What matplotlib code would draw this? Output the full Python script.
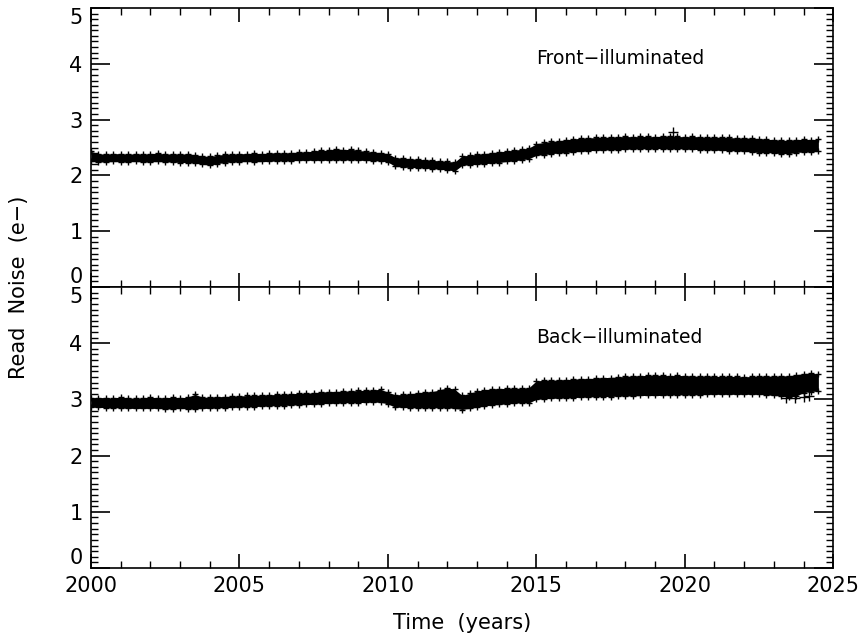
import matplotlib
matplotlib.use('Agg')

import matplotlib.pyplot as plt
from matplotlib.ticker import MultipleLocator
import numpy as np

# sample epochs, every quarter year from 2000.0 to 2024.5
TIMES = np.arange(2000.0, 2024.51, 0.25)

# upper / lower edge of the scatter cloud (e-)
FRONT_HI = [2.43, 2.39, 2.38, 2.39, 2.39, 2.38, 2.39, 2.38, 2.39, 2.40,
            2.38, 2.39, 2.38, 2.39, 2.37, 2.35, 2.34, 2.36, 2.38, 2.38,
            2.39, 2.39, 2.40, 2.39, 2.40, 2.41, 2.40, 2.41, 2.42, 2.42,
            2.44, 2.45, 2.45, 2.48, 2.46, 2.47, 2.45, 2.43, 2.42, 2.41,
            2.39, 2.32, 2.31, 2.30, 2.29, 2.28, 2.27, 2.26, 2.25, 2.24,
            2.35, 2.36, 2.38, 2.39, 2.41, 2.42, 2.44, 2.45, 2.47, 2.49,
            2.57, 2.59, 2.61, 2.62, 2.64, 2.65, 2.67, 2.67, 2.68, 2.68,
            2.69, 2.69, 2.70, 2.69, 2.70, 2.70, 2.69, 2.71, 2.70, 2.70,
            2.69, 2.70, 2.69, 2.68, 2.69, 2.68, 2.68, 2.67, 2.67, 2.67,
            2.66, 2.65, 2.64, 2.63, 2.63, 2.64, 2.65, 2.64, 2.65]
FRONT_LO = [2.25, 2.24, 2.24, 2.25, 2.24, 2.24, 2.25, 2.24, 2.24, 2.25,
            2.24, 2.24, 2.23, 2.23, 2.22, 2.20, 2.18, 2.21, 2.23, 2.24,
            2.24, 2.25, 2.24, 2.25, 2.25, 2.26, 2.26, 2.26, 2.27, 2.27,
            2.27, 2.27, 2.27, 2.28, 2.27, 2.28, 2.27, 2.27, 2.26, 2.26,
            2.24, 2.16, 2.15, 2.14, 2.14, 2.13, 2.12, 2.11, 2.10, 2.08,
            2.18, 2.19, 2.20, 2.21, 2.22, 2.23, 2.25, 2.26, 2.28, 2.30,
            2.36, 2.37, 2.39, 2.40, 2.41, 2.42, 2.43, 2.44, 2.45, 2.45,
            2.46, 2.46, 2.47, 2.47, 2.48, 2.47, 2.48, 2.48, 2.47, 2.48,
            2.47, 2.47, 2.46, 2.46, 2.45, 2.45, 2.44, 2.44, 2.43, 2.42,
            2.41, 2.41, 2.40, 2.39, 2.39, 2.41, 2.42, 2.42, 2.43]
BACK_HI = [3.02, 3.03, 3.02, 3.03, 3.04, 3.03, 3.02, 3.03, 3.04, 3.03,
           3.03, 3.04, 3.03, 3.04, 3.09, 3.04, 3.04, 3.05, 3.05, 3.06,
           3.06, 3.07, 3.07, 3.08, 3.08, 3.09, 3.09, 3.10, 3.11, 3.11,
           3.12, 3.13, 3.14, 3.14, 3.15, 3.15, 3.16, 3.16, 3.17, 3.18,
           3.13, 3.08, 3.09, 3.10, 3.12, 3.13, 3.14, 3.17, 3.21, 3.18,
           3.07, 3.11, 3.15, 3.17, 3.19, 3.19, 3.20, 3.20, 3.20, 3.21,
           3.33, 3.34, 3.34, 3.35, 3.35, 3.36, 3.37, 3.37, 3.38, 3.39,
           3.39, 3.40, 3.41, 3.42, 3.42, 3.43, 3.43, 3.43, 3.42, 3.43,
           3.42, 3.42, 3.41, 3.42, 3.41, 3.41, 3.41, 3.41, 3.40, 3.41,
           3.41, 3.42, 3.41, 3.42, 3.42, 3.44, 3.46, 3.47, 3.45]
BACK_LO = [2.86, 2.86, 2.85, 2.85, 2.85, 2.84, 2.84, 2.84, 2.84, 2.84,
           2.83, 2.83, 2.84, 2.83, 2.83, 2.84, 2.84, 2.85, 2.85, 2.86,
           2.86, 2.87, 2.87, 2.88, 2.88, 2.89, 2.89, 2.90, 2.90, 2.91,
           2.91, 2.92, 2.93, 2.93, 2.94, 2.94, 2.94, 2.95, 2.95, 2.95,
           2.92, 2.86, 2.86, 2.85, 2.85, 2.85, 2.85, 2.85, 2.85, 2.84,
           2.82, 2.84, 2.86, 2.88, 2.90, 2.91, 2.92, 2.93, 2.94, 2.94,
           3.00, 3.01, 3.02, 3.02, 3.03, 3.03, 3.04, 3.04, 3.05, 3.05,
           3.05, 3.06, 3.06, 3.06, 3.07, 3.07, 3.07, 3.07, 3.08, 3.08,
           3.08, 3.08, 3.08, 3.09, 3.09, 3.09, 3.09, 3.09, 3.09, 3.09,
           3.09, 3.08, 3.07, 3.06, 3.04, 3.06, 3.12, 3.14, 3.15]

# stray points outside the main cloud
FRONT_OUT_T = [2019.6]
FRONT_OUT_V = [2.78]
BACK_OUT_T = [2023.4, 2023.7, 2024.0, 2024.2]
BACK_OUT_V = [3.02, 3.03, 3.04, 3.06]

PANELS = [
  ('Front\u2212illuminated', FRONT_LO, FRONT_HI, FRONT_OUT_T, FRONT_OUT_V),
  ('Back\u2212illuminated', BACK_LO, BACK_HI, BACK_OUT_T, BACK_OUT_V),
]

plt.rcParams['font.family'] = 'DejaVu Sans'

fig = plt.figure(figsize=(8.59, 6.36), dpi=100)
left, right = 0.106, 0.970
bounds = [(0.5487, 0.9874), (0.1069, 0.5487)]

for i, (name, lo, hi, out_t, out_v) in enumerate(PANELS):
  bottom, top = bounds[i]
  ax = fig.add_axes([left, bottom, right - left, top - bottom])

  ax.fill_between(TIMES, lo, hi, color='k', lw=0, zorder=2)
  ax.plot(TIMES, hi, ls='none', marker='+', ms=4, mew=1.0, color='k', zorder=2)
  ax.plot(TIMES, lo, ls='none', marker='+', ms=4, mew=1.0, color='k', zorder=2)
  ax.plot(out_t, out_v, ls='none', marker='+', ms=7, mew=1.0, color='k', zorder=2)

  ax.text(2015.0, 4.1, name, fontsize=13.5, ha='left', va='center')

  ax.set_xlim(2000, 2025)
  ax.set_ylim(0, 5)
  ax.set_yticks(range(6))
  ax.set_xticks(range(2000, 2026, 5))
  ax.xaxis.set_minor_locator(MultipleLocator(1))
  ax.yaxis.set_minor_locator(MultipleLocator(0.1))
  ax.tick_params(which='both', direction='in', top=True, right=True,
                 labelsize=15, pad=6)
  ax.tick_params(which='major', length=10, width=1.2)
  ax.tick_params(which='minor', length=5, width=1.0)
  ax.tick_params(axis='y', which='major', length=14)
  for s in ax.spines.values():
    s.set_linewidth(1.2)

  ticks = ax.yaxis.get_major_ticks()
  ticks[0].label1.set_va('bottom')
  ticks[-1].label1.set_va('top')

  if i == 0:
    ax.tick_params(labelbottom=False)
  else:
    ax.set_xlabel('Time  (years)', fontsize=15, labelpad=12)

fig.text(0.022, 0.548, 'Read  Noise  (e\u2212)', rotation=90, fontsize=15,
         ha='center', va='center')

fig.savefig('out.png', dpi=100)
